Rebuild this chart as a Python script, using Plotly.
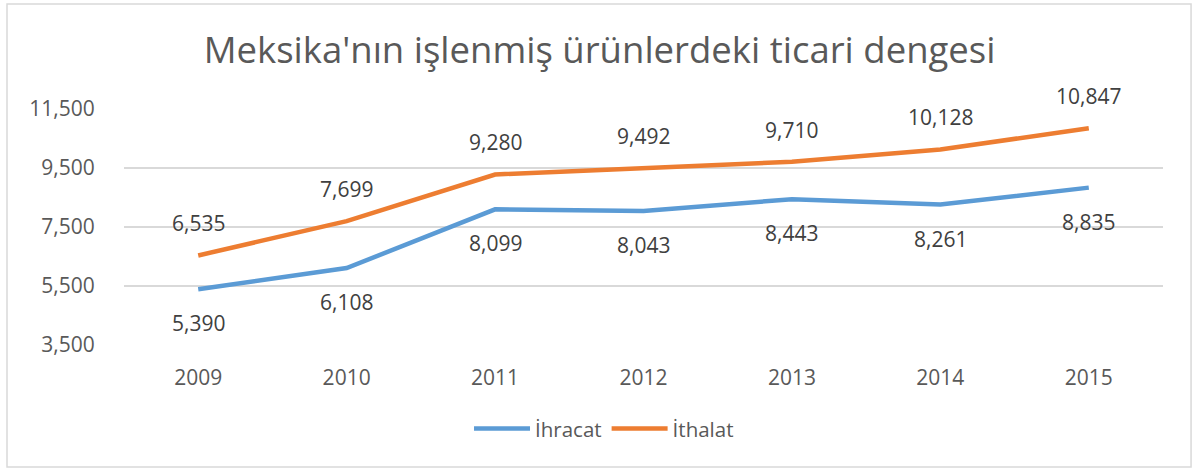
import plotly.graph_objects as go

years = [2009, 2010, 2011, 2012, 2013, 2014, 2015]
ihracat = [5390, 6108, 8099, 8043, 8443, 8261, 8835]
ithalat = [6535, 7699, 9280, 9492, 9710, 10128, 10847]
y_ticks = [3500, 5500, 7500, 9500, 11500]

FONT = "Open Sans"
fig = go.Figure()
fig.add_trace(go.Scatter(x=years, y=ihracat, mode="lines", name="İhracat",
                         line=dict(color="#5B9BD5", width=4.5)))
fig.add_trace(go.Scatter(x=years, y=ithalat, mode="lines", name="İthalat",
                         line=dict(color="#ED7D31", width=4.5)))

anns = []
for x, v in zip(years, ihracat):
    anns.append(dict(x=x, y=v, xref="x", yref="y", text=f"{v:,}", showarrow=False,
                     yshift=-34, font=dict(family=FONT, size=21, color="#404040")))
for x, v in zip(years, ithalat):
    anns.append(dict(x=x, y=v, xref="x", yref="y", text=f"{v:,}", showarrow=False,
                     yshift=32, font=dict(family=FONT, size=21, color="#404040")))

fig.update_layout(
    width=1192, height=468,
    margin=dict(l=124, r=29, t=109, b=123),
    paper_bgcolor="white", plot_bgcolor="white",
    title=dict(text="Meksika'nın işlenmiş ürünlerdeki ticari dengesi",
               x=0.503, xanchor="center", y=0.893, yanchor="middle",
               font=dict(family=FONT, size=36.5, color="#595959")),
    font=dict(family=FONT, color="#595959"),
    showlegend=True,
    legend=dict(orientation="h", x=0.462, xanchor="center", y=-0.27, yanchor="top",
                font=dict(family=FONT, size=20.5, color="#595959"),
                itemwidth=56),
    annotations=anns,
    shapes=[dict(type="rect", xref="paper", yref="paper",
                 x0=-0.1126, x1=1.027, y0=-0.517, y1=1.445,
                 line=dict(color="#D9D9D9", width=1.5), layer="below")],
)
fig.update_xaxes(range=[years[0] - 0.5, years[-1] + 0.5], tickvals=years,
                 ticktext=[str(y) for y in years],
                 showgrid=False, showline=False, zeroline=False,
                 ticks="outside", ticklen=14, tickcolor="rgba(0,0,0,0)",
                 tickfont=dict(family=FONT, size=21, color="#595959"))
fig.update_yaxes(range=[3500, 11500], tickvals=y_ticks, tickformat=",",
                 showgrid=True, gridcolor="#D9D9D9", gridwidth=1.5,
                 zeroline=False, showline=False,
                 ticks="outside", ticklen=24, tickcolor="rgba(0,0,0,0)",
                 tickfont=dict(family=FONT, size=21, color="#595959"))

fig.write_html("out.html", config={"displayModeBar": False},
               post_script="document.body.style.margin='0';")
